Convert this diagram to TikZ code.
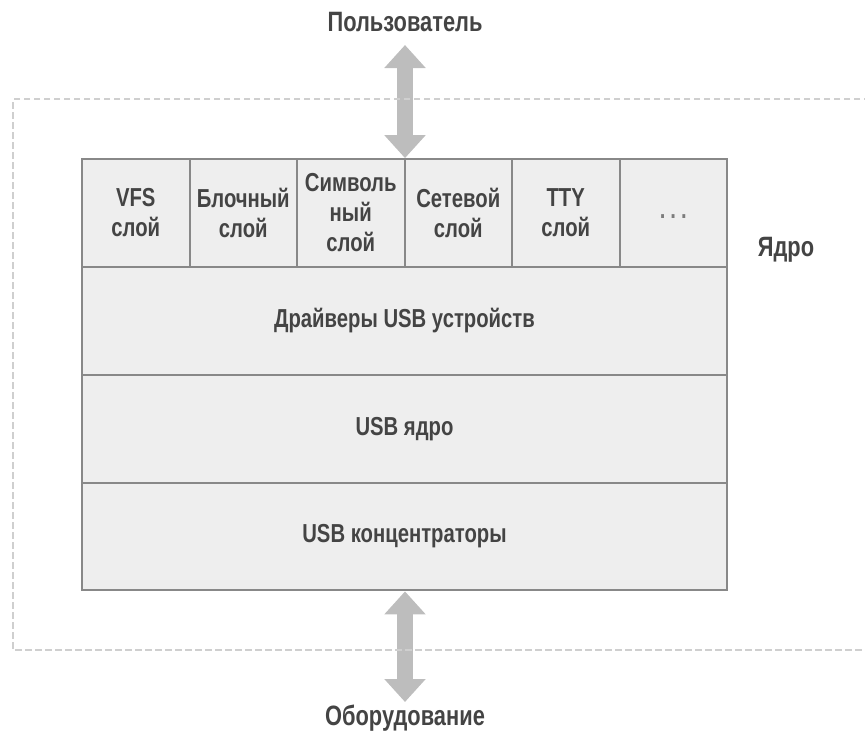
\documentclass[tikz,border=0pt]{standalone}
\usepackage{fontspec}
\setmainfont{Liberation Sans}[FakeStretch=0.78]
\usetikzlibrary{arrows.meta}
\definecolor{txt}{HTML}{444444}
\definecolor{cellfill}{HTML}{EEEEEE}
\definecolor{cellline}{HTML}{888888}
\definecolor{arrowgray}{HTML}{BDBDBD}
\definecolor{framegray}{HTML}{CFCFCF}
\tikzset{
  cell/.style={draw=cellline, line width=2pt, fill=cellfill, rectangle,
    minimum width=107.5pt, minimum height=107.75pt, inner sep=0pt,
    align=center, text=txt, font=\bfseries\fontsize{26}{30}\selectfont},
  rowbox/.style={cell, minimum width=645pt},
  outer/.style={text=txt, inner sep=0pt, font=\bfseries\fontsize{28}{30}\selectfont},
  bigarrow/.style={draw=arrowgray, line width=16pt,
    {Triangle[width=40pt,length=23pt,fill=arrowgray]}-{Triangle[width=40pt,length=23pt,fill=arrowgray]}},
  kernelframe/.style={draw=framegray, line width=1.5pt, dash pattern=on 6.5pt off 3.5pt}
}
\begin{document}
\begin{tikzpicture}[x=1pt, y=-1pt]
  \useasboundingbox (0,0) rectangle (865,739);

  % stack of kernel layers
  \node[cell] (vfs)  at (135.75,213) {VFS\\слой};
  \node[cell] (blk)  at (243.25,213) {Блочный\\слой};
  \node[cell] (chr)  at (350.75,213) {Символь\\ный\\слой};
  \node[cell] (net)  at (458.25,213) {Сетевой\\слой};
  \node[cell] (tty)  at (565.75,213) {TTY\\слой};
  \node[cell] (more) at (673.25,213) {};
  \node[text=txt!70, inner sep=0pt, font=\bfseries\fontsize{26}{30}\selectfont] (dots) at (673.25,217)
    {.\hspace{5pt}.\hspace{5pt}.};
  \node[rowbox] (drv) at (404.5,321) {Драйверы USB устройств};
  \node[rowbox] (core) at (404.5,429) {USB ядро};
  \node[rowbox] (hub) at (404.5,536.5) {USB концентраторы};

  % outside labels
  \node[outer] (user) at (405,22) {Пользователь};
  \node[outer] (hw) at (405,718) {Оборудование};
  \node[outer] (kern) at (786,250) {Ядро};

  % arrow ends
  \coordinate (ua) at (405,45);
  \coordinate (ha) at (405,702);

  % user <-> kernel, kernel <-> hardware
  \draw[bigarrow] (ua) -- (chr.north east -| ua);
  \draw[bigarrow] (hub.south -| ha) -- (ha);

  % kernel boundary, open on the right
  \draw[kernelframe] (870,99) -- (13,99) -- (13,650) -- (870,650);
\end{tikzpicture}
\end{document}
